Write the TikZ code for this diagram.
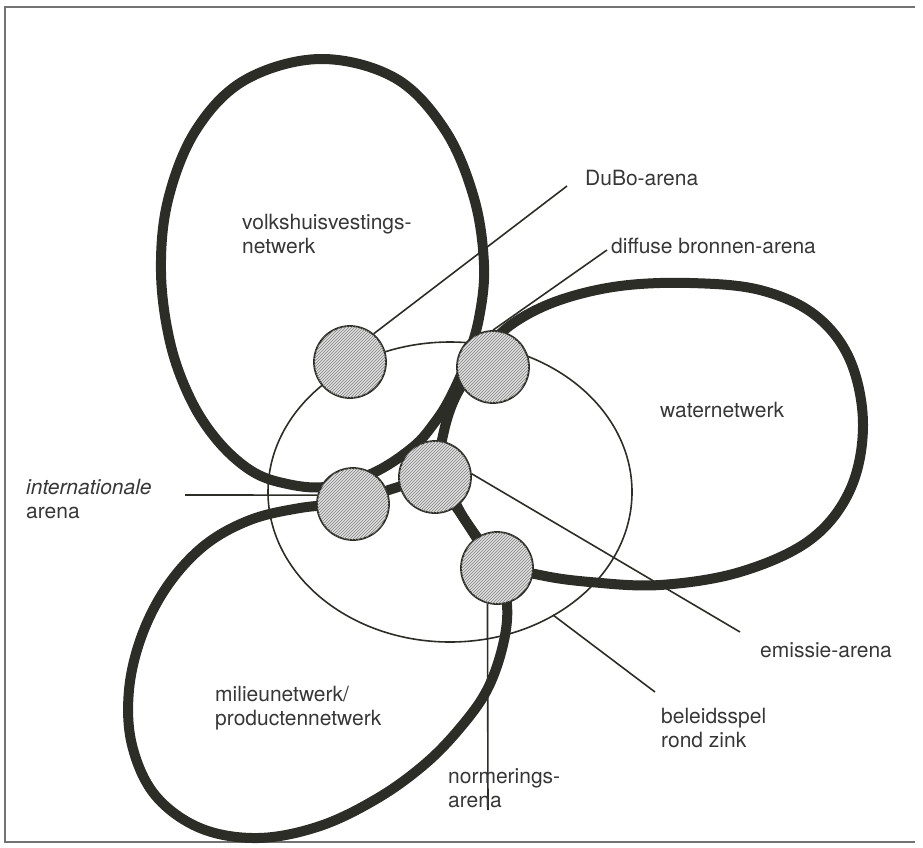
\documentclass[tikz,border=0pt]{standalone}
\usepackage{fontspec}
\setmainfont{TeX Gyre Heros}
\usetikzlibrary{patterns}
\definecolor{ink}{RGB}{45,45,40}
\definecolor{txt}{RGB}{55,55,55}

\begin{document}
\begin{tikzpicture}[x=1pt,y=-1pt]
	\tikzstyle{arena}=[circle,draw=ink,line width=1.8pt,fill=black!12,minimum size=72pt,inner sep=0pt,
		postaction={pattern=north east lines,pattern color=black!50}]
	\tikzstyle{netwerk}=[draw=ink,line width=10pt]
	\tikzstyle{spel}=[draw=ink,line width=1.6pt]
	\tikzstyle{edge}=[draw=ink,line width=1.6pt]
	\tikzstyle{label}=[text=txt,font=\fontsize{21}{23.5}\selectfont,align=left,inner sep=0pt,anchor=west]

	\useasboundingbox (0,0) rectangle (923,847);
	\draw[black!55,line width=1.5pt] (915,7) -- (5,7) -- (5,842) -- (915,842);

	% beleidsspel
	\path[spel] (450,492) ellipse [x radius=182,y radius=150];

	% netwerken
	\path[netwerk] plot[smooth cycle,tension=0.6] coordinates {(320,59) (395,78) (445,130) (474,198)
		(484,265) (479,318) (466,362) (450,398) (435,422) (413,447) (373,473) (325,487) (283,483) (250,470)
		(217,440) (190,398) (170,342) (161,272) (168,200) (196,130) (245,80)};
	\path[netwerk] plot[smooth cycle,tension=0.6] coordinates {(437,472) (442,440) (450,410) (462,385) (485,350)
		(515,322) (560,300) (620,286) (690,283) (760,290) (815,315) (850,360) (863,425) (850,490) (810,540)
		(740,572) (660,585) (590,582) (540,575) (497,562) (465,520)};
	\path[netwerk] plot[smooth cycle,tension=0.6] coordinates {(353,502) (300,508) (250,520) (205,545) (168,585)
		(142,635) (129,690) (132,745) (155,795) (200,828) (258,838) (320,826) (378,798) (425,764) (460,728)
		(487,690) (503,645) (507,605) (497,568) (465,520) (437,478) (395,488)};

	% arena's
	\node [arena] (A) at (350,362) {};
	\node [arena] (B) at (493,367) {};
	\node [arena] (C) at (435,477) {};
	\node [arena] (D) at (353,504) {};
	\node [arena] (E) at (497,568) {};

	\coordinate (dubo-end) at (567,186);
	\coordinate (diffuse-end) at (607,250);
	\coordinate (emissie-end) at (740,632);
	\coordinate (zink-start) at (553,615);
	\coordinate (zink-end) at (655,692);
	\coordinate (intl-end) at (185,495);
	\coordinate (norm-end) at (488,810);

	\path[edge] (A.50) -- (dubo-end);
	\path[edge] (B.north) -- (diffuse-end);
	\path[edge] (C.5) -- (emissie-end);
	\path[edge] (zink-start) -- (zink-end);
	\path[edge] (D.166) -- (intl-end);
	\path[edge] (E.255) -- (norm-end);

	\node [label] (volks) at (242,234) {volkshuisvestings-\\netwerk};
	\node [label] (water) at (660,410) {waternetwerk};
	\node [label] (milieu) at (215,708) {milieunetwerk/\\productennetwerk};
	\node [label] (dubo) at (585,178) {DuBo-arena};
	\node [label] (diffuse) at (611,246) {diffuse bronnen-arena};
	\node [label] (emissie) at (760,650) {emissie-arena};
	\node [label] (zink) at (661,728) {beleidsspel\\rond zink};
	\node [label] (intl) at (26,499) {\textit{internationale}\\arena};
	\node [label] (norm) at (448,788) {normerings-\\arena};
\end{tikzpicture}
\end{document}
